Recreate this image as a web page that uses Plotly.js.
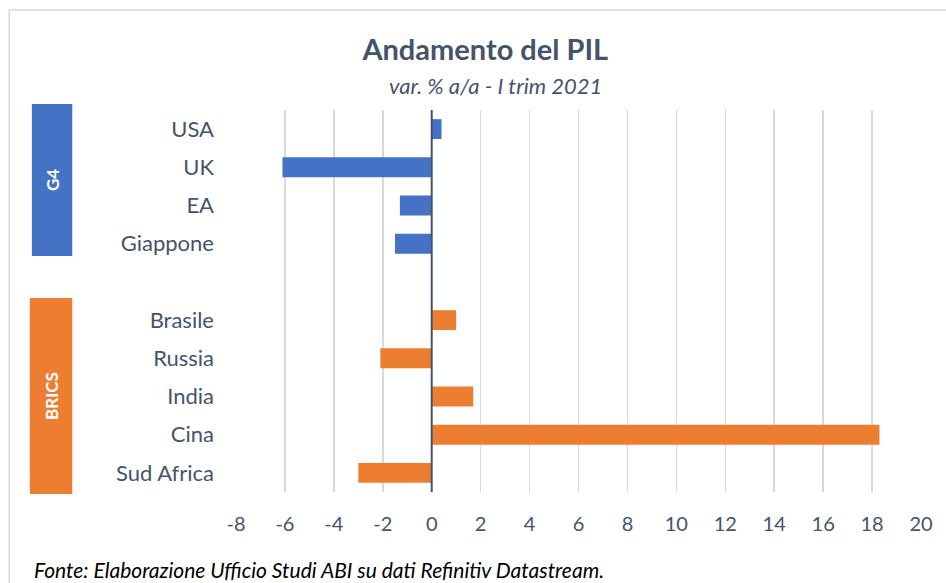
<!DOCTYPE html>
<html>
<head>
<meta charset="utf-8">
<script src="https://cdn.plot.ly/plotly-3.0.1.min.js"></script>
<style>html,body{margin:0;padding:0;background:#fff;}#chart{width:946px;height:583px;}</style>
</head>
<body>
<div id="chart"></div>
<script>
// Data
const g4Countries = ["USA", "UK", "EA", "Giappone"];
const g4Values = [0.4, -6.1, -1.3, -1.5];
const bricsCountries = ["Brasile", "Russia", "India", "Cina", "Sud Africa"];
const bricsValues = [1.0, -2.1, 1.7, 18.3, -3.0];
const gapCategory = [" "];
const groupLabels = ["G4", "BRICS"];
const xTicks = [-8, -6, -4, -2, 0, 2, 4, 6, 8, 10, 12, 14, 16, 18, 20];
const titleText = "Andamento del PIL";
const subtitleText = "var. % a/a - I trim 2021";
const sourceText = "Fonte: Elaborazione Ufficio Studi ABI su dati Refinitiv Datastream.";

const allCats = g4Countries.concat(gapCategory, bricsCountries);
const FONT = "Lato, 'Open Sans', sans-serif";
const TXT = "#44546a";
const BLUE = "#4472c4";
const ORANGE = "#ed7d31";

const traces = [
  {type: "bar", orientation: "h", y: g4Countries, x: g4Values, marker: {color: BLUE}, name: groupLabels[0], hoverinfo: "x+y"},
  {type: "bar", orientation: "h", y: bricsCountries, x: bricsValues, marker: {color: ORANGE}, name: groupLabels[1], hoverinfo: "x+y"}
];

const layout = {
  width: 946, height: 583,
  margin: {l: 236, r: 25, t: 110, b: 91},
  paper_bgcolor: "#fff", plot_bgcolor: "#fff",
  showlegend: false,
  barmode: "overlay",
  bargap: 0.48,
  font: {family: FONT, color: TXT, size: 17},
  title: {
    text: "<b>" + titleText + "</b>",
    font: {family: FONT, size: 29, color: TXT},
    xref: "container", x: 0.513, xanchor: "center",
    yref: "container", y: 1 - 50/583, yanchor: "middle"
  },
  xaxis: {
    range: [-8, 20], tickvals: xTicks, ticktext: xTicks.map(String),
    showgrid: true, gridcolor: "#d9d9d9", gridwidth: 1.5,
    zeroline: false, showline: false, ticks: "",
    tickfont: {family: FONT, size: 20, color: TXT},
    ticklabelstandoff: 18, fixedrange: true
  },
  yaxis: {
    type: "category", categoryorder: "array", categoryarray: allCats,
    range: [allCats.length - 0.5, -0.5],
    showgrid: false, zeroline: false, showline: false, ticks: "",
    tickfont: {family: FONT, size: 22, color: TXT},
    ticklabelstandoff: 21, fixedrange: true
  },
  shapes: [
    {type: "rect", xref: "paper", yref: "paper", x0: -0.331, x1: 1.05, y0: -0.5, y1: 1.262,
     line: {color: "#d9d9d9", width: 1.5}, fillcolor: "rgba(0,0,0,0)", layer: "below"},
    {type: "line", xref: "x", yref: "paper", x0: 0, x1: 0, y0: 0, y1: 1,
     line: {color: TXT, width: 2}, layer: "above"},
    {type: "rect", xref: "paper", yref: "paper", x0: -0.298, x1: -0.239, y0: 0.618, y1: 1.016,
     fillcolor: BLUE, line: {width: 0}},
    {type: "rect", xref: "paper", yref: "paper", x0: -0.301, x1: -0.239, y0: -0.005, y1: 0.508,
     fillcolor: ORANGE, line: {width: 0}}
  ],
  annotations: [
    {text: "<i>" + subtitleText + "</i>", xref: "paper", yref: "paper",
     x: (495 - 236) / 685, y: (492 - 86) / 382, xanchor: "center", yanchor: "middle",
     showarrow: false, font: {family: FONT, size: 22, color: TXT}},
    {text: "<b>" + groupLabels[0] + "</b>", xref: "paper", yref: "paper",
     x: (52 - 236) / 685, y: (492 - 180) / 382, xanchor: "center", yanchor: "middle",
     textangle: -90, showarrow: false, font: {family: FONT, size: 17, color: "#fff"}},
    {text: "<b>" + groupLabels[1] + "</b>", xref: "paper", yref: "paper",
     x: (51 - 236) / 685, y: (492 - 396) / 382, xanchor: "center", yanchor: "middle",
     textangle: -90, showarrow: false, font: {family: FONT, size: 17, color: "#fff"}},
    {text: "<i>" + sourceText + "</i>", xref: "paper", yref: "paper",
     x: (32 - 236) / 685, y: (492 - 569) / 382, xanchor: "left", yanchor: "middle",
     showarrow: false, font: {family: FONT, size: 21, color: "#000"}}
  ]
};

Plotly.newPlot("chart", traces, layout, {displayModeBar: false, staticPlot: true});
</script>
</body>
</html>
